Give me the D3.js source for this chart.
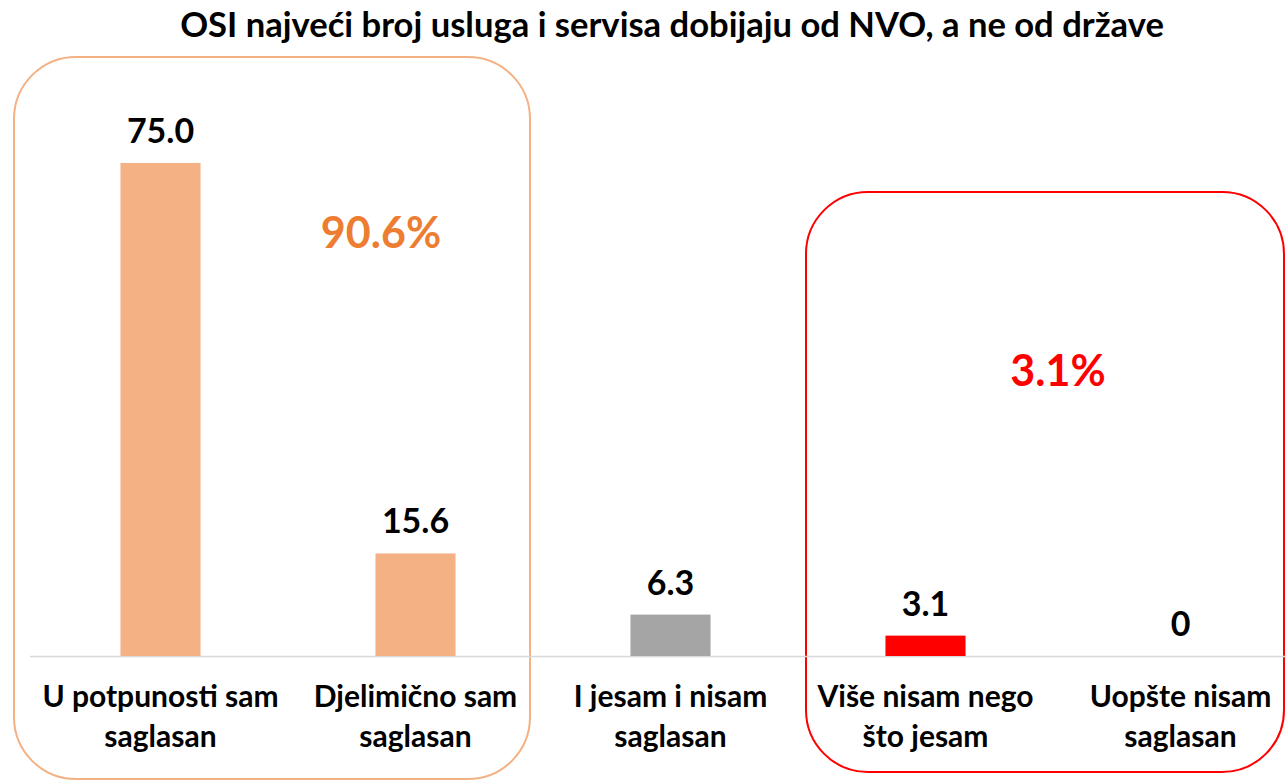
<!DOCTYPE html>
<meta charset="utf-8">
<head>
  <script src="https://d3js.org/d3.v7.min.js"></script>
  <style>
    body { margin: 0; background: #fff; }
    text { font-family: Lato, "Open Sans", sans-serif; font-weight: bold; }
  </style>
</head>
<body>
  <div id="chart"></div>
  <script>
    var categories = [
      ["U potpunosti sam", "saglasan"],
      ["Djelimično sam", "saglasan"],
      ["I jesam i nisam", "saglasan"],
      ["Više nisam nego", "što jesam"],
      ["Uopšte nisam", "saglasan"]
    ];
    var values = [75.0, 15.6, 6.3, 3.1, 0];
    var valueLabels = ["75.0", "15.6", "6.3", "3.1", "0"];
    var barColors = ["#F4B183", "#F4B183", "#A5A5A5", "#FF0000", "#FF0000"];
    var title = "OSI najveći broj usluga i servisa dobijaju od NVO, a ne od države";
    var groups = [
      { from: 0, to: 1, label: "90.6%", color: "#ED7D31", stroke: "#F4B183" },
      { from: 3, to: 4, label: "3.1%", color: "#FF0000", stroke: "#FF0000" }
    ];

    var width = 1286, height = 781;
    var baseY = 656;

    var svg = d3.select("#chart").append("svg")
      .attr("width", width).attr("height", height);

    var x = d3.scaleBand()
      .domain(d3.range(categories.length))
      .range([33, 1308])
      .padding(0);
    var barW = x.bandwidth() * 0.314;

    var y = d3.scaleLinear()
      .domain([0, 75])
      .range([baseY, 163]);

    // title
    svg.append("text")
      .attr("x", 672).attr("y", 37)
      .attr("text-anchor", "middle")
      .style("font-size", "34.6px")
      .attr("fill", "#000")
      .text(title);

    // group boxes
    var boxes = [
      { x0: x(0) - 19, x1: x(1) + x.bandwidth() - 13, y0: 57, y1: 779 },
      { x0: x(3) + 8, x1: x(4) + x.bandwidth() - 24, y0: 192, y1: 772 }
    ];
    var pctPos = [[381, 248], [1058, 386]];
    groups.forEach(function (g, i) {
      var b = boxes[i];
      svg.append("rect")
        .attr("x", b.x0).attr("y", b.y0)
        .attr("width", b.x1 - b.x0).attr("height", b.y1 - b.y0)
        .attr("rx", 62).attr("ry", 62)
        .attr("fill", "none")
        .attr("stroke", g.stroke)
        .attr("stroke-width", 2);
      svg.append("text")
        .attr("x", pctPos[i][0]).attr("y", pctPos[i][1])
        .attr("text-anchor", "middle")
        .style("font-size", "43px")
        .attr("fill", g.color)
        .text(g.label);
    });

    // axis line
    svg.append("line")
      .attr("x1", 30).attr("x2", width)
      .attr("y1", baseY + 0.5).attr("y2", baseY + 0.5)
      .attr("stroke", "#D9D9D9").attr("stroke-width", 1.5);

    // bars
    svg.selectAll("rect.bar")
      .data(values)
      .enter().append("rect")
      .attr("class", "bar")
      .attr("x", function (d, i) { return x(i) + x.bandwidth() / 2 - barW / 2; })
      .attr("y", function (d) { return y(d); })
      .attr("width", barW)
      .attr("height", function (d) { return baseY - y(d); })
      .attr("fill", function (d, i) { return barColors[i]; });

    // value labels
    svg.selectAll("text.val")
      .data(values)
      .enter().append("text")
      .attr("class", "val")
      .attr("x", function (d, i) { return x(i) + x.bandwidth() / 2; })
      .attr("y", function (d) { return y(d) - 20; })
      .attr("text-anchor", "middle")
      .style("font-size", "34px")
      .attr("fill", "#000")
      .text(function (d, i) { return valueLabels[i]; });

    // category labels
    categories.forEach(function (lines, i) {
      var t = svg.append("text")
        .attr("x", x(i) + x.bandwidth() / 2)
        .attr("y", 707)
        .attr("text-anchor", "middle")
        .style("font-size", "30px")
        .attr("fill", "#000");
      lines.forEach(function (l, k) {
        t.append("tspan")
          .attr("x", x(i) + x.bandwidth() / 2)
          .attr("dy", k === 0 ? 0 : 40)
          .text(l);
      });
    });
  </script>
</body>
</html>
